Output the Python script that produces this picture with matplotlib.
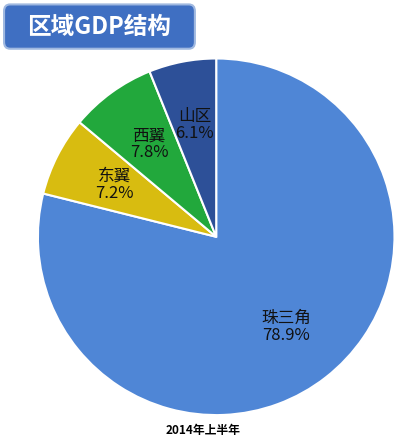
import matplotlib.pyplot as plt
from matplotlib.patches import FancyBboxPatch

plt.rcParams['font.family'] = ['Noto Sans CJK SC', 'DejaVu Sans']

regions = ['珠三角', '东翼', '西翼', '山区']
shares = [78.9, 7.2, 7.8, 6.1]
colors = ['#4f86d6', '#d8bc10', '#22a83c', '#2d5098']
title = '区域GDP结构'
subtitle = '2014年上半年'

fig = plt.figure(figsize=(4.06, 4.43), dpi=100)
fig.patch.set_facecolor('white')

ax = fig.add_axes([0.089, 0.059, 0.887, 0.813])
labels = [f'{r}\n{s}%' for r, s in zip(regions, shares)]
wedges, texts = ax.pie(shares, colors=colors, startangle=90, counterclock=False,
                       labels=labels, labeldistance=0.64,
                       wedgeprops=dict(edgecolor='white', linewidth=1.5),
                       textprops=dict(fontsize=12, color='#111111', ha='center', va='center',
                                      linespacing=1.0))
ax.set_xlim(-1.01, 1.01)
ax.set_ylim(-1.01, 1.01)
ax.set_aspect('auto')

box = FancyBboxPatch((0.015, 0.895), 0.46, 0.09, boxstyle='round,pad=0.005,rounding_size=0.015',
                     transform=fig.transFigure, facecolor='#3f6fc2', edgecolor='#9fb8e0', linewidth=1.5)
fig.patches.append(box)
fig.text(0.245, 0.94, title, color='white', fontsize=17, fontweight='bold', ha='center', va='center')
fig.text(0.5, 0.028, subtitle, fontsize=8.5, fontweight='bold', ha='center', va='center')
fig.text(0.84, 0.085, '新快报', fontsize=20, color='white', alpha=0.9, fontweight='bold', ha='center', va='center')

fig.savefig('out.png', dpi=100)
